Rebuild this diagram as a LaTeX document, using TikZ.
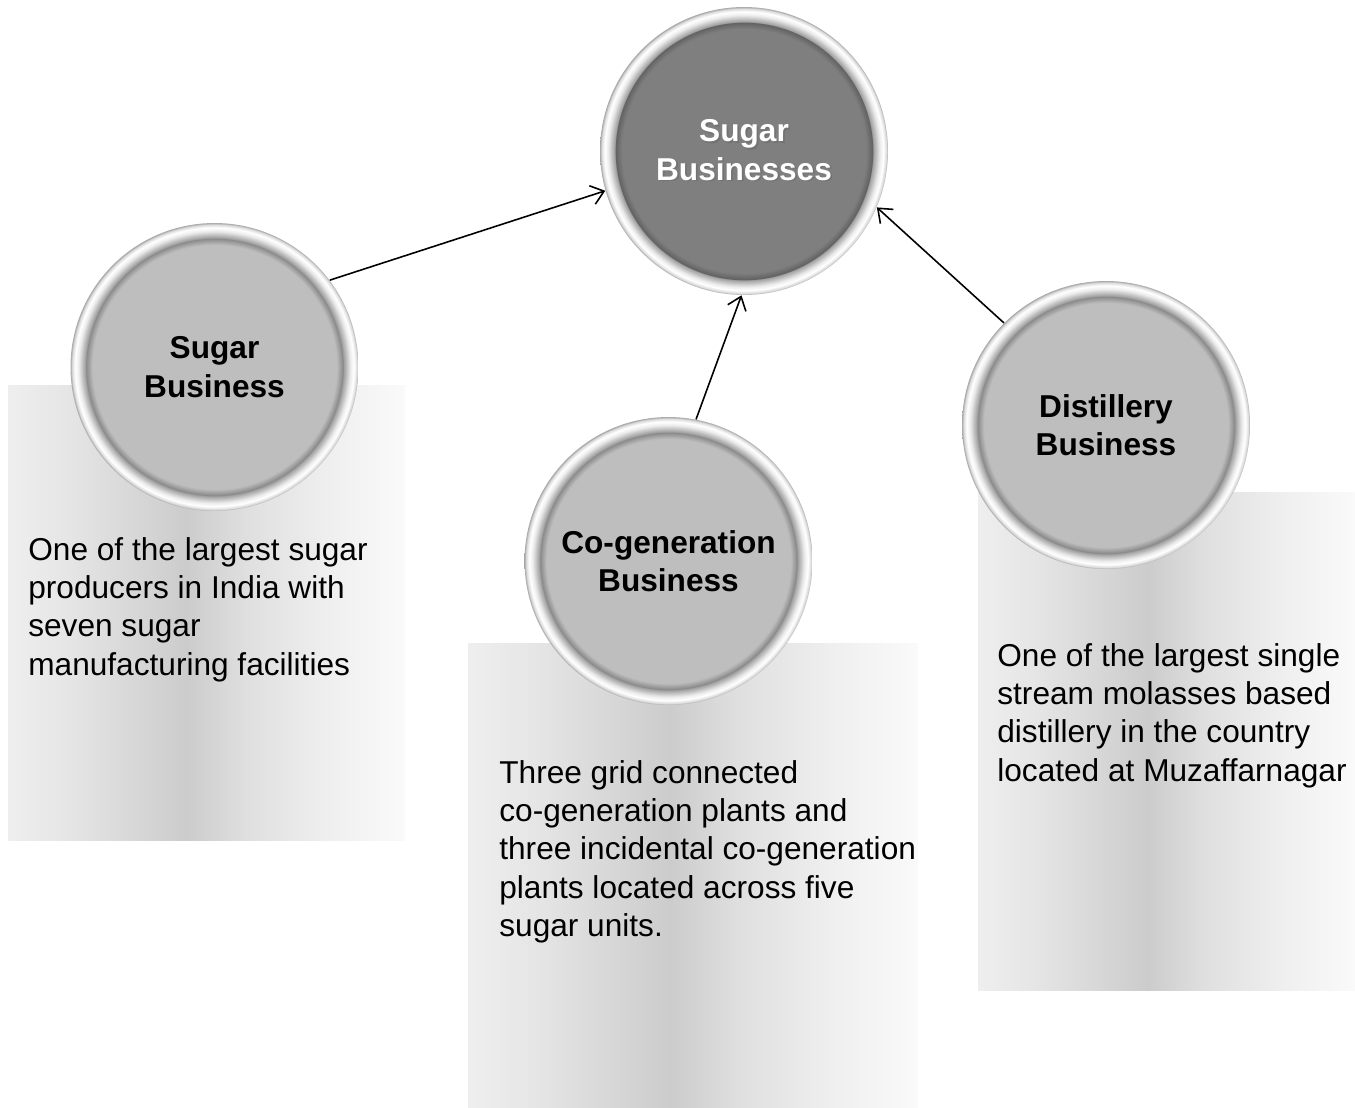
\documentclass[tikz,border=0pt]{standalone}
\usepackage{fontspec}
\setmainfont{Liberation Sans}
\usepackage{xcolor}
\usetikzlibrary{arrows.meta}

\definecolor{hubfill}{HTML}{7F7F7F}
\definecolor{leaffill}{HTML}{BEBEBE}

% white title with a soft dark shadow
\newcommand{\shadowword}[1]{\leavevmode\rlap{\kern1pt\raisebox{-1pt}{\color{black!55}#1}}#1}

% the path box covers 25bp..75bp of a shading
\pgfdeclarehorizontalshading{panelshade}{100bp}{color(0bp)=(gray!13); color(25bp)=(gray!13); color(32.5bp)=(gray!20); color(47.5bp)=(gray!40); color(55bp)=(gray!25); color(65bp)=(gray!13); color(75bp)=(gray!4); color(100bp)=(gray!4)}
\pgfdeclareradialshading{hubshade}{\pgfpoint{0bp}{0bp}}{color(0bp)=(hubfill); color(21.2bp)=(hubfill); color(22.4bp)=(hubfill!75!black); color(22.45bp)=(gray!75); color(23.6bp)=(gray!15); color(24.2bp)=(white); color(24.75bp)=(gray!30); color(25bp)=(gray!70); color(50bp)=(white)}
\pgfdeclareradialshading{leafshade}{\pgfpoint{0bp}{0bp}}{color(0bp)=(leaffill); color(21.2bp)=(leaffill); color(22.4bp)=(leaffill!70!black); color(22.45bp)=(gray!75); color(23.6bp)=(gray!15); color(24.2bp)=(white); color(24.75bp)=(gray!30); color(25bp)=(gray!70); color(50bp)=(white)}

\tikzset{
	hubnode/.style={circle, minimum size=5.76cm, inner sep=0pt, shade, shading=hubshade, align=center, text=white, font=\bfseries\fontsize{18}{21.8}\selectfont},
	leafnode/.style={circle, minimum size=5.76cm, inner sep=0pt, shade, shading=leafshade, align=center, font=\bfseries\fontsize{18}{21.8}\selectfont},
	panel/.style={shade, shading=panelshade},
	blurb/.style={anchor=north west, inner sep=0pt, align=left, font=\fontsize{18}{21.8}\selectfont},
	link/.style={-{Straight Barb[length=7pt,width=11pt]}, line width=0.9pt}
}

\begin{document}
\begin{tikzpicture}[x=0.02cm, y=-0.02cm]
	\useasboundingbox (0,0) rectangle (1355,1107);

	% Shaded panels behind the circles
	\path [panel] (8,385) rectangle (405,840);
	\path [panel] (468,643) rectangle (918,1107);
	\path [panel] (978,492) rectangle (1355,990);

	% Circles
	\node [hubnode] (hub) at (744,151) {\shadowword{Sugar}\\\shadowword{Businesses}};
	\node [leafnode] (sugar) at (214.5,367) {Sugar\\Business};
	\node [leafnode] (cogen) at (668.5,561) {Co-generation\\Business};
	\node [leafnode] (distil) at (1106,425) {Distillery\\Business};

	% Arrows into the hub
	\draw [link] (sugar.37.9) -- (hub.196);
	\draw [link] (cogen.79.5) -- (hub.269);
	\draw [link] (distil.135.1) -- (hub.337);

	% Descriptions
	\node [blurb] (sugartxt) at (28,537) {One of the largest sugar\\producers in India with\\seven sugar\\manufacturing facilities};
	\node [blurb] (cogentxt) at (499,760) {Three grid connected\\co-generation plants and\\three incidental co-generation\\plants located across five\\sugar units.};
	\node [blurb] (distiltxt) at (997,643) {One of the largest single\\stream molasses based\\distillery in the country\\located at Muzaffarnagar};
\end{tikzpicture}
\end{document}
